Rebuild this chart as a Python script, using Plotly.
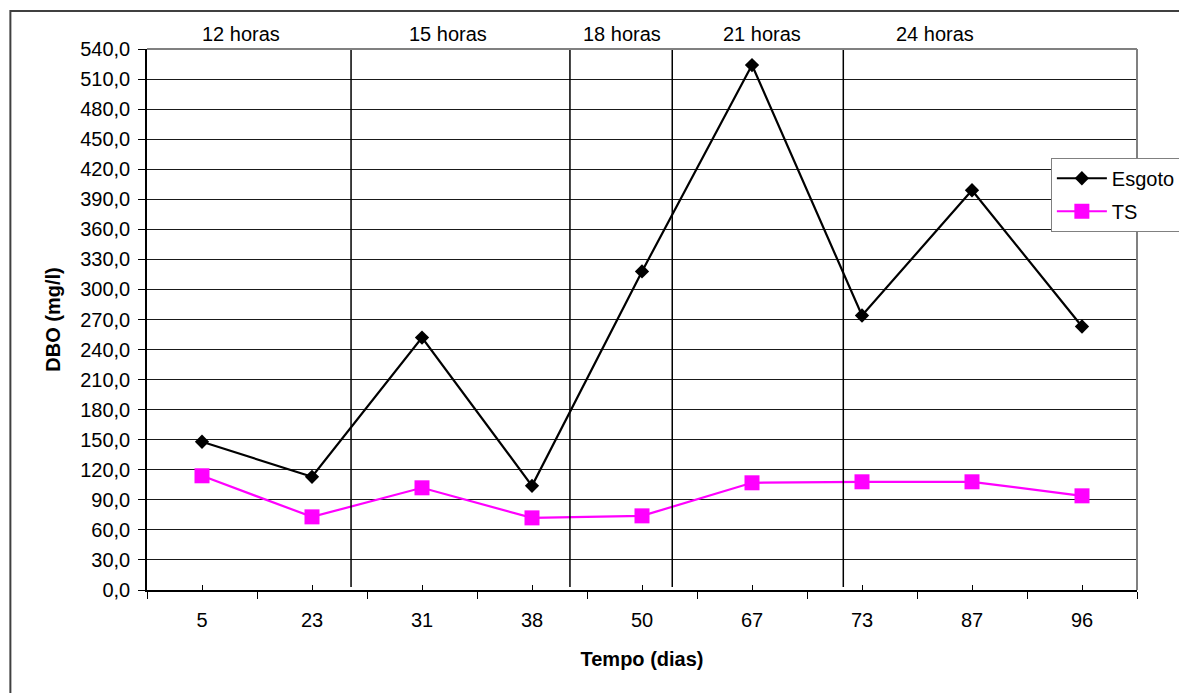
import plotly.graph_objects as go

# ---- data ----
dias = ["5", "23", "31", "38", "50", "67", "73", "87", "96"]
esgoto = [148, 113, 252, 104, 318, 524, 274, 399, 263]
ts = [114, 73, 102, 72, 74, 107, 108, 108, 94]
periodos = ["12 horas", "15 horas", "18 horas", "21 horas", "24 horas"]
y_ticks = list(range(0, 541, 30))

# ---- layout helpers (category-index coordinates) ----
periodo_divisoes = [1.355, 3.345, 4.275, 5.83]
periodo_rotulo_x = [0.35, 2.24, 3.82, 5.09, 6.66]

FONT = "Liberation Sans, Arial, sans-serif"
FS = 20

fig = go.Figure()
fig.add_trace(go.Scatter(
    x=dias, y=esgoto, name="Esgoto", mode="lines+markers", legendgroup="a",
    line=dict(color="black", width=2.2),
    marker=dict(symbol="diamond", size=11, color="black"),
    xaxis="x", yaxis="y"))
fig.add_trace(go.Scatter(
    x=dias, y=ts, name="TS", mode="lines+markers", legendgroup="b",
    line=dict(color="#FF00FF", width=2.2),
    marker=dict(symbol="square", size=15, color="#FF00FF"),
    xaxis="x2", yaxis="y"))

shapes = []
for xv in periodo_divisoes:
    shapes.append(dict(type="line", xref="x", yref="y", x0=xv, x1=xv, y0=3, y1=540,
                       line=dict(color="black", width=1.5), layer="above"))
# plot area top/right border (gray)
shapes.append(dict(type="line", xref="paper", yref="paper", x0=0, x1=1, y0=1, y1=1,
                   line=dict(color="#808080", width=2)))
shapes.append(dict(type="line", xref="paper", yref="paper", x0=1, x1=1, y0=0, y1=1,
                   line=dict(color="#808080", width=2)))
# outer chart frame (extends past the visible page on right/bottom)
shapes.append(dict(type="rect", xref="paper", yref="paper",
                   x0=-0.138, x1=1.08, y0=-0.25, y1=1.0702,
                   line=dict(color="#404040", width=2), fillcolor="rgba(0,0,0,0)"))

annotations = []
for lbl, xv in zip(periodos, periodo_rotulo_x):
    annotations.append(dict(x=xv, y=1.0277, xref="x", yref="paper", text=lbl, showarrow=False,
                            font=dict(family=FONT, size=FS, color="black"),
                            xanchor="center", yanchor="middle"))

fig.update_layout(
    width=1179, height=685,
    margin=dict(l=139, r=50, t=41, b=103, autoexpand=False),
    paper_bgcolor="white", plot_bgcolor="white",
    separators=",.",
    font=dict(family=FONT, size=FS, color="black"),
    showlegend=True,
    legend=dict(x=0.913, y=0.799, xanchor="left", yanchor="top",
                bgcolor="white", bordercolor="#808080", borderwidth=1,
                font=dict(family=FONT, size=FS, color="black"),
                tracegroupgap=4, itemwidth=50),
    shapes=shapes, annotations=annotations,
    xaxis=dict(type="category", categoryorder="array", categoryarray=dias,
               range=[-0.5, 8.5], tickson="boundaries", ticks="outside", ticklen=7,
               tickcolor="black", showline=True, linecolor="black", linewidth=1.5,
               showgrid=False, zeroline=False, ticklabelstandoff=11,
               tickfont=dict(family=FONT, size=FS),
               title=dict(text="<b>Tempo (dias)</b>", standoff=22,
                          font=dict(family=FONT, size=FS))),
    xaxis2=dict(type="category", categoryorder="array", categoryarray=dias,
                range=[-0.5, 8.5], overlaying="x", anchor="y", side="bottom",
                ticks="inside", ticklen=5, tickcolor="black", showticklabels=False,
                showgrid=False, showline=False, zeroline=False),
    yaxis=dict(range=[0, 540], tickvals=y_ticks, tickformat=".1f",
               ticks="outside", ticklen=7, tickcolor="black",
               showline=True, linecolor="black", linewidth=1.5,
               showgrid=True, gridcolor="#1a1a1a", gridwidth=1, zeroline=False,
               ticklabelstandoff=4, tickfont=dict(family=FONT, size=FS),
               title=dict(text="<b>DBO (mg/l)</b>", standoff=14,
                          font=dict(family=FONT, size=FS))),
)

fig.write_html("out.html")
